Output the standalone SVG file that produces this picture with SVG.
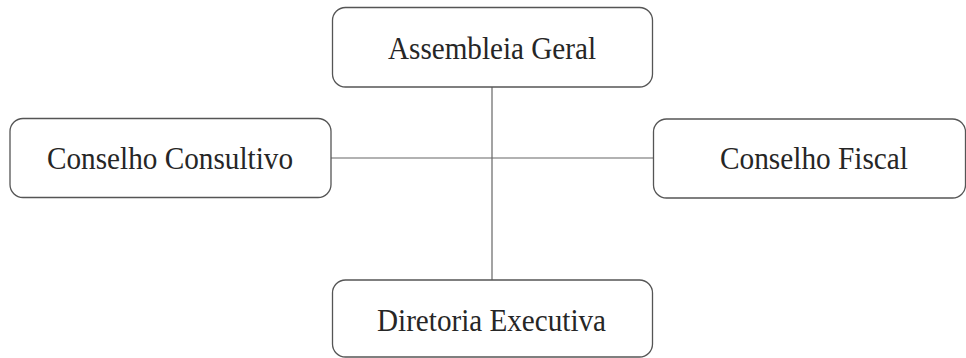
<svg xmlns="http://www.w3.org/2000/svg" width="966" height="358" viewBox="0 0 966 358">
<style>
.box{fill:#fff;stroke:#555;stroke-width:1.3}
.lbl{font-family:"Liberation Serif","Times New Roman",serif;font-size:31px;fill:#262626;text-anchor:middle}
.con{stroke:#666;stroke-width:1.2;fill:none}
</style>
<rect width="966" height="358" fill="#fff"/>
<g id="connectors">
<line class="con" x1="492" y1="87" x2="492" y2="280"/>
<line class="con" x1="331" y1="158" x2="653" y2="158"/>
</g>
<g id="assembleia">
<rect class="box" x="332.5" y="7.5" width="320" height="79.5" rx="13"/>
<text class="lbl" x="492" y="58.5" textLength="208" lengthAdjust="spacingAndGlyphs">Assembleia Geral</text>
</g>
<g id="consultivo">
<rect class="box" x="10" y="118.5" width="321" height="79" rx="13"/>
<text class="lbl" x="170" y="168.5" textLength="246" lengthAdjust="spacingAndGlyphs">Conselho Consultivo</text>
</g>
<g id="fiscal">
<rect class="box" x="653.5" y="119" width="312" height="79" rx="13"/>
<text class="lbl" x="814" y="168.5" textLength="188" lengthAdjust="spacingAndGlyphs">Conselho Fiscal</text>
</g>
<g id="diretoria">
<rect class="box" x="332.5" y="280" width="320" height="77" rx="13"/>
<text class="lbl" x="491.5" y="331" textLength="229" lengthAdjust="spacingAndGlyphs">Diretoria Executiva</text>
</g>
</svg>
